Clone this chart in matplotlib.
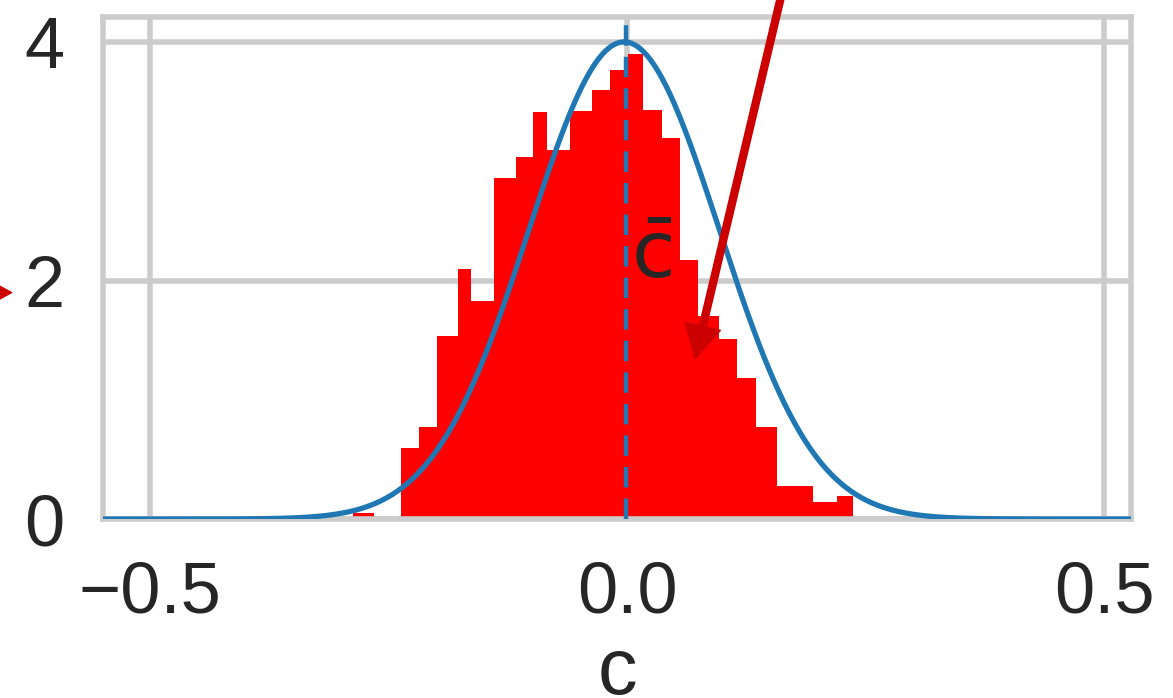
import numpy as np
import matplotlib
matplotlib.use('Agg')
import matplotlib.pyplot as plt

# density histogram of c (bin edges and heights)
bin_edges = [-0.2872, -0.2652, -0.2372, -0.2180, -0.1988, -0.1768, -0.1638,
             -0.1394, -0.1167, -0.0982, -0.0842, -0.0597, -0.0370, -0.0178,
             0.0014, 0.0171, 0.0364, 0.0556, 0.0747, 0.0967, 0.1156, 0.1352,
             0.1569, 0.1761, 0.1953, 0.2198, 0.2366]
density = [0.05, 0.0, 0.597, 0.772, 1.534, 2.095, 1.830, 2.860, 3.035, 3.417,
           3.094, 3.420, 3.598, 3.768, 3.897, 3.427, 3.194, 2.174, 1.706, 1.511,
           1.179, 0.772, 0.273, 0.273, 0.142, 0.19]

# fitted normal curve and mean of c
curve_mu = -0.003
curve_sigma = 0.0997
c_mean = -0.001
c_mean_top = 4.14

x_ticks = [-0.5, 0.0, 0.5]
y_ticks = [0, 2, 4]

plt.rcParams['font.family'] = ['Liberation Sans', 'DejaVu Sans']

fig = plt.figure(figsize=(11.73, 6.98), dpi=100)
ax = fig.add_axes([0.0878, 0.2564, 0.8764, 0.7192])

ax.stairs(density, bin_edges, fill=True, color='red', zorder=2)

xs = np.linspace(-0.549, 0.528, 600)
pdf = np.exp(-0.5 * ((xs - curve_mu) / curve_sigma) ** 2) / (curve_sigma * np.sqrt(2 * np.pi))
ax.plot(xs, pdf, color='#1f77b4', lw=3.8, zorder=3)
ax.vlines(c_mean, 0, c_mean_top, color='#1f77b4', lw=3.2,
          linestyles=(0, (4.6, 2.5)), zorder=3)
ax.text(0.0252, 2.025, r'$\bar{\mathrm{c}}$', ha='center', va='baseline',
        fontsize=57, color='#262626', zorder=4)

ax.set_xlim(-0.549, 0.528)
ax.set_ylim(0, 4.21)
ax.set_xticks(x_ticks)
ax.set_yticks(y_ticks)
ax.grid(True, color='#cccccc', lw=4)
ax.set_axisbelow(True)
for s in ax.spines.values():
    s.set_color('#cccccc')
    s.set_linewidth(4)
ax.tick_params(length=0, labelsize=52, labelcolor='#262626')
ax.tick_params(axis='x', pad=30)
ax.tick_params(axis='y', pad=28)
ax.set_xlabel('c', fontsize=57, color='#262626', labelpad=6)

# arrows coming in from neighbouring panels
arrow = dict(width=5, headwidth=26, headlength=24, color='#cc0000', shrink=0)
ax.annotate('', xy=(0.0713, 1.345), xytext=(0.1853, 5.19),
            arrowprops=arrow, annotation_clip=False, zorder=5)
ax.annotate('', xy=(-0.6447, 1.899), xytext=(-1.0, 1.899),
            arrowprops=arrow, annotation_clip=False, zorder=5)

fig.savefig('out.png', dpi=100)
